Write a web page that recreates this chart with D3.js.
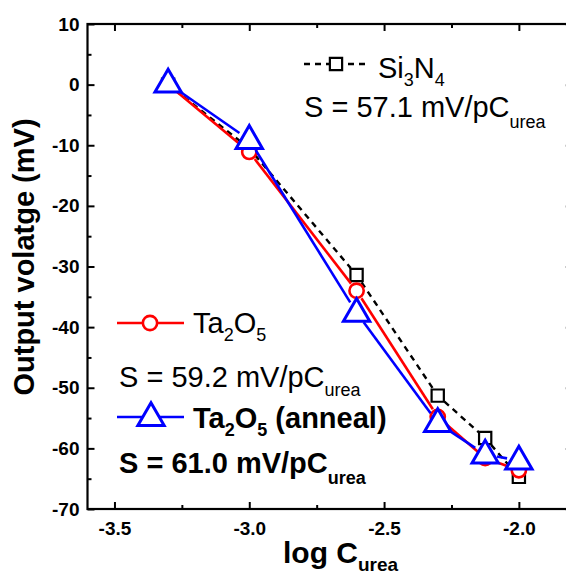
<!DOCTYPE html>
<html><head><meta charset="utf-8">
<script src="https://cdn.jsdelivr.net/npm/d3@7"></script>
<style>body{margin:0;background:#fff;} svg{display:block;font-family:"Liberation Sans",Arial,sans-serif;}</style>
</head><body><svg id="c" width="566" height="577"></svg>
<script>
const logC = [-3.301, -3.0, -2.602, -2.301, -2.125, -2.0];
const si3n4 = [0, -10.5, -31.4, -51.3, -58.3, -64.7];
const ta2o5 = [0, -11.1, -34.0, -54.8, -61.6, -63.6];
const ta2o5Anneal = [0.2, -9.1, -37.6, -55.8, -61.0, -62.0];
const xTicks = [-3.5, -3.0, -2.5, -2.0];
const xMinor = [-3.25, -2.75, -2.25, -1.75];
const yTicks = [10, 0, -10, -20, -30, -40, -50, -60, -70];
const yMinor = [5, -5, -15, -25, -35, -45, -55, -65];

const svg = d3.select("#c");
const x = d3.scaleLinear().domain([-3.6, -1.8]).range([87.5, 572.8]);
const y = d3.scaleLinear().domain([-70, 10]).range([509, 24]);
const X0 = x.range()[0], X1 = x.range()[1], Y0 = y.range()[0], Y1 = y.range()[1];
const FONT = "'Liberation Sans',Arial,sans-serif";

// axes (ticks inward)
const gx = svg.append("g").attr("transform", `translate(0,${Y0})`)
  .call(d3.axisBottom(x).tickValues(xTicks).tickSize(-7).tickPadding(13));
const gxm = svg.append("g").attr("transform", `translate(0,${Y0})`)
  .call(d3.axisBottom(x).tickValues(xMinor).tickSize(-4).tickFormat(""));
const gxt = svg.append("g").attr("transform", `translate(0,${Y1})`)
  .call(d3.axisTop(x).tickValues(xTicks).tickSize(-7).tickFormat(""));
const gxtm = svg.append("g").attr("transform", `translate(0,${Y1})`)
  .call(d3.axisTop(x).tickValues(xMinor).tickSize(-4).tickFormat(""));
const gy = svg.append("g").attr("transform", `translate(${X0},0)`)
  .call(d3.axisLeft(y).tickValues(yTicks).tickSize(-7).tickPadding(8));
const gym = svg.append("g").attr("transform", `translate(${X0},0)`)
  .call(d3.axisLeft(y).tickValues(yMinor).tickSize(-4).tickFormat(""));
const gyr = svg.append("g").attr("transform", `translate(${X1},0)`)
  .call(d3.axisRight(y).tickValues(yTicks).tickSize(-7).tickFormat(""));
const gyrm = svg.append("g").attr("transform", `translate(${X1},0)`)
  .call(d3.axisRight(y).tickValues(yMinor).tickSize(-4).tickFormat(""));
[gx,gxm,gxt,gxtm,gy,gym,gyr,gyrm].forEach(g=>{
  g.select(".domain").remove();
  g.selectAll(".tick line").attr("stroke","#000").attr("stroke-width",2);
  g.selectAll(".tick text").attr("fill","#000").attr("font-size",19).attr("font-weight","bold")
   .attr("font-family",FONT);
});
gx.selectAll(".tick text").text(d => d.toFixed(1));
gy.selectAll(".tick text").text(d => String(d));
svg.append("rect").attr("x",X0).attr("y",Y1).attr("width",X1-X0).attr("height",Y0-Y1)
  .attr("fill","none").attr("stroke","#000").attr("stroke-width",2.2);

// series line with gaps around markers
function gapLine(vals, color, width, dash, gap) {
  const pts = logC.map((c,i)=>[x(c), y(vals[i])]);
  const g = svg.append("g");
  for (let i=0;i<pts.length-1;i++){
    const [ax,ay]=pts[i],[bx,by]=pts[i+1];
    const L=Math.hypot(bx-ax,by-ay); if(L<=2*gap) continue;
    const ux=(bx-ax)/L, uy=(by-ay)/L;
    g.append("line").attr("x1",ax+ux*gap).attr("y1",ay+uy*gap)
      .attr("x2",bx-ux*gap).attr("y2",by-uy*gap)
      .attr("stroke",color).attr("stroke-width",width)
      .attr("stroke-dasharray",dash||null);
  }
  return pts;
}
const sq = d3.symbol().type(d3.symbolSquare).size(150);
const ci = d3.symbol().type(d3.symbolCircle).size(160);
const tri = d3.symbol().type(d3.symbolTriangle).size(300);

const pS = gapLine(si3n4, "#000", 2.4, "6,5", 9);
svg.append("g").selectAll("path").data(pS).join("path").attr("d", sq)
  .attr("transform", d=>`translate(${d[0]},${d[1]})`).attr("fill","#fff").attr("stroke","#000").attr("stroke-width",2.2);
const pT = gapLine(ta2o5, "#ff0000", 2.6, null, 9);
svg.append("g").selectAll("path").data(pT).join("path").attr("d", ci)
  .attr("transform", d=>`translate(${d[0]},${d[1]})`).attr("fill","#fff").attr("stroke","#ff0000").attr("stroke-width",2.6);
const pA = gapLine(ta2o5Anneal, "#0000ff", 2.6, null, 12);
svg.append("g").selectAll("path").data(pA).join("path").attr("d", tri)
  .attr("transform", d=>`translate(${d[0]},${d[1]+1})`).attr("fill","#fff").attr("stroke","#0000ff").attr("stroke-width",3);

const LS = 29, SUB = 18, SD = 8;
function formula(xp, yp, parts, bold) {
  const t = svg.append("text").attr("x",xp).attr("y",yp).attr("font-size",LS)
    .attr("font-weight",bold?"bold":"normal").attr("fill","#000");
  let shifted = false;
  parts.forEach(([s,isSub])=>{
    const ts = t.append("tspan").text(s);
    if (isSub) { ts.attr("font-size",SUB).attr("dy", shifted?0:SD); shifted = true; }
    else { ts.attr("dy", shifted?-SD:0); shifted = false; }
  });
  return t;
}
function slope(xp, yp, txt, bold, sdy) {
  const t = svg.append("text").attr("x",xp).attr("y",yp).attr("font-size",LS)
    .attr("font-weight",bold?"bold":"normal").attr("fill","#000");
  t.append("tspan").text(txt);
  t.append("tspan").attr("font-size",SUB).attr("dy",sdy||11).text("urea");
}

// Legend Si3N4
const ly1 = 64;
svg.append("line").attr("x1",304).attr("x2",368).attr("y1",ly1).attr("y2",ly1).attr("stroke","#000").attr("stroke-width",2.4).attr("stroke-dasharray","6,5");
svg.append("path").attr("d",sq).attr("transform",`translate(336,${ly1})`).attr("fill","#fff").attr("stroke","#000").attr("stroke-width",2.2);
formula(378, 78, [["Si",0],["3",1],["N",0],["4",1]], false);
slope(304, 117, "S = 57.1 mV/pC", false);

// Legend Ta2O5
const ly2 = 323;
svg.append("line").attr("x1",117).attr("x2",184).attr("y1",ly2).attr("y2",ly2).attr("stroke","#ff0000").attr("stroke-width",2.6);
svg.append("path").attr("d",ci).attr("transform",`translate(150,${ly2})`).attr("fill","#fff").attr("stroke","#ff0000").attr("stroke-width",2.6);
formula(193, 333, [["Ta",0],["2",1],["O",0],["5",1]], false);
slope(119, 387, "S = 59.2 mV/pC", false, 9);

// Legend Ta2O5 anneal
const ly3 = 417;
svg.append("line").attr("x1",117).attr("x2",184).attr("y1",ly3).attr("y2",ly3).attr("stroke","#0000ff").attr("stroke-width",2.6);
svg.append("path").attr("d",tri).attr("transform",`translate(151,${ly3+1})`).attr("fill","#fff").attr("stroke","#0000ff").attr("stroke-width",3);
formula(193, 428, [["Ta",0],["2",1],["O",0],["5",1],[" (anneal)",0]], true);
slope(119, 473, "S = 61.0 mV/pC", true);

// Axis titles
{
  const t = svg.append("text").attr("x",283).attr("y",563).attr("font-size",30).attr("font-weight","bold").attr("fill","#000");
  t.append("tspan").text("log C");
  t.append("tspan").attr("font-size",19).attr("dy",8).text("urea");
}
svg.append("text").attr("transform","translate(34,257) rotate(-90)").attr("text-anchor","middle")
  .attr("font-size",29).attr("font-weight","bold").attr("fill","#000").text("Output volatge (mV)");
</script></body></html>
